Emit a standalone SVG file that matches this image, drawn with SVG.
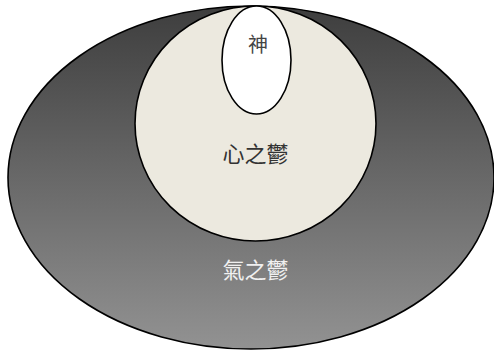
<svg xmlns="http://www.w3.org/2000/svg" width="494" height="352" viewBox="0 0 494 352">
<defs>
<linearGradient id="g" x1="0" y1="0" x2="0" y2="1">
<stop offset="0" stop-color="#3e3e3e"/>
<stop offset="1" stop-color="#929292"/>
</linearGradient>
<style>
.s{stroke:#000;stroke-width:1.6}
.t{font-family:"Noto Sans CJK TC","Noto Sans CJK SC",sans-serif;text-anchor:middle}
</style>
</defs>
<rect width="494" height="352" fill="#fff"/>
<g id="qi">
<ellipse class="s" cx="251" cy="177.5" rx="243" ry="171.5" fill="url(#g)"/>
<text class="t" x="255.5" y="278" font-size="22" fill="#f0f0f0">氣之鬱</text>
</g>
<g id="xin">
<ellipse class="s" cx="255.5" cy="123.5" rx="120.5" ry="117.5" fill="#ece9df"/>
<text class="t" x="255.5" y="162" font-size="22" fill="#333">心之鬱</text>
</g>
<g id="shen">
<ellipse class="s" cx="256.5" cy="60" rx="34.5" ry="54" fill="#fff"/>
<text class="t" x="258" y="52" font-size="20" fill="#444">神</text>
</g>
<g id="connectors"/>
</svg>
